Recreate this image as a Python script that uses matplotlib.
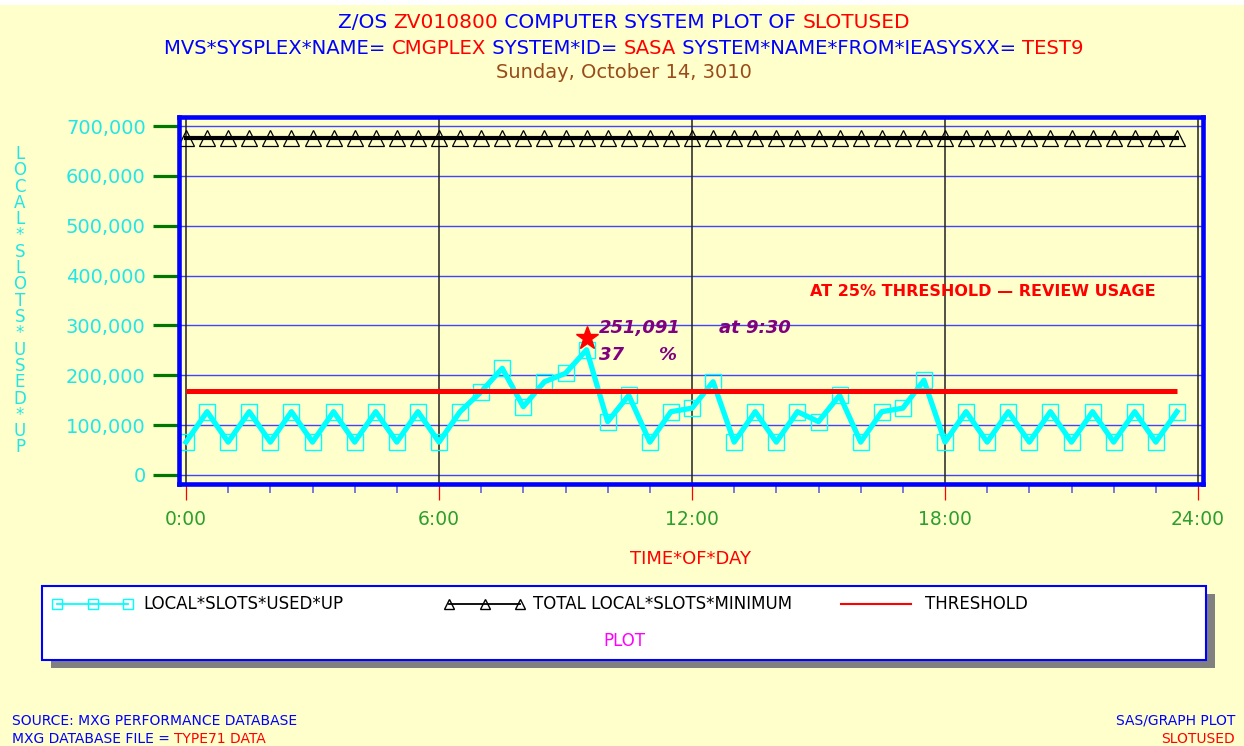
""" SAS/GRAPH style plot of local slots used over the day """

import matplotlib
matplotlib.use("Agg")
import matplotlib.pyplot as plt
from matplotlib.font_manager import FontProperties
from matplotlib.lines import Line2D
from matplotlib.patches import Rectangle
from matplotlib.transforms import offset_copy

### Data (one point every half hour)
times = ["0:00", "0:30", "1:00", "1:30", "2:00", "2:30", "3:00", "3:30",
         "4:00", "4:30", "5:00", "5:30", "6:00", "6:30", "7:00", "7:30",
         "8:00", "8:30", "9:00", "9:30", "10:00", "10:30", "11:00", "11:30",
         "12:00", "12:30", "13:00", "13:30", "14:00", "14:30", "15:00", "15:30",
         "16:00", "16:30", "17:00", "17:30", "18:00", "18:30", "19:00", "19:30",
         "20:00", "20:30", "21:00", "21:30", "22:00", "22:30", "23:00", "23:30"]

slots_used = [66000, 127000, 66000, 127000, 66000, 127000, 66000, 127000,
              66000, 127000, 66000, 127000, 66000, 127000, 167000, 214000,
              137000, 187000, 204000, 251091, 107000, 160000, 66000, 127000,
              134000, 187000, 66000, 127000, 66000, 127000, 107000, 160000,
              66000, 127000, 134000, 190000, 66000, 127000, 66000, 127000,
              66000, 127000, 66000, 127000, 66000, 127000, 66000, 127000]

total_slots = 675000
threshold = 168750

y_ticks = [0, 100000, 200000, 300000, 400000, 500000, 600000, 700000]
x_ticks = [0, 6, 12, 18, 24]
x_tick_labels = ["0:00", "6:00", "12:00", "18:00", "24:00"]

### Colours
BG = "#FFFFCC"
BLUE = "#0000FF"
RED = "#FF0000"
CYAN = "#00FFFF"
CYAN_TEXT = "#22E6E6"
GREEN = "#007700"
GREEN_TEXT = "#2E9E2E"
BROWN = "#994C1A"
PURPLE = "#800080"

W, H = 1244, 746


def to_hours(t):
    h, m = t.split(":")
    return int(h) + int(m) / 60.0


def fx(px):
    return px / W


def fy(px):
    return 1 - px / H


def draw_pieces(fig, pieces, x_px, y_px, ha="center", size=14, weight="normal"):
    """ Draw a line of text made of pieces with different colours """
    renderer = fig.canvas.get_renderer()
    prop = FontProperties(size=size, weight=weight)

    def width(s):
        w, _, _ = renderer.get_text_width_height_descent(s + "|", prop, ismath=False)
        w0, _, _ = renderer.get_text_width_height_descent("|", prop, ismath=False)
        return w - w0

    full = "".join(s for s, c in pieces)
    total = width(full)
    if ha == "center":
        start = x_px - total / 2
    elif ha == "right":
        start = x_px - total
    else:
        start = x_px

    prefix = ""
    for s, c in pieces:
        fig.text(fx(start + width(prefix)), fy(y_px), s, color=c, ha="left",
                 va="baseline", fontproperties=prop)
        prefix += s


hours = [to_hours(t) for t in times]

fig = plt.figure(figsize=(12.44, 7.46), dpi=100, facecolor=BG)
fig.patches.append(Rectangle((0, fy(5)), 1, 5 / H, transform=fig.transFigure,
                             facecolor="white", edgecolor="none"))

### Axes box ( pixel positions of the blue frame )
left, right, top, bottom = 179, 1203, 116.5, 484
ax = fig.add_axes([fx(left), fy(bottom), fx(right - left), (bottom - top) / H])
ax.set_facecolor(BG)

### Data scales: 0:00 at x=186 px, 24:00 at 1198 px ; 0 at y=475 px, 700,000 at 126 px
px_per_hour = (1198 - 186) / 24.0
px_per_unit = (475 - 126) / 700000.0
ax.set_xlim(-(186 - left) / px_per_hour, 24 + (right - 1198) / px_per_hour)
ax.set_ylim(-(bottom - 475) / px_per_unit, 700000 + (126 - top) / px_per_unit)

for spine in ax.spines.values():
    spine.set_color(BLUE)
    spine.set_linewidth(3.3)
    spine.set_zorder(6)

### Grid
for v in y_ticks:
    ax.axhline(v, color="#4444FF", lw=1.0, zorder=1)
for v in x_ticks:
    ax.axvline(v, color="#222222", lw=1.1, zorder=1)

### Series
ax.plot(hours, [total_slots] * len(hours), color="black", lw=3.0, marker="^",
        markersize=11, markerfacecolor="none", markeredgecolor="black",
        markeredgewidth=0.9, zorder=3)
ax.plot(hours, slots_used, color=CYAN, lw=3.8, marker="s", markersize=11,
        markerfacecolor="none", markeredgecolor=CYAN, markeredgewidth=1.0,
        zorder=3)
ax.plot([hours[0], hours[-1]], [threshold, threshold], color=RED, lw=3.6,
        solid_capstyle="butt", zorder=4)

### Peak annotation
peak_i = max(range(len(slots_used)), key=lambda i: slots_used[i])
peak_t, peak_v = hours[peak_i], slots_used[peak_i]
star_tr = offset_copy(ax.transData, fig=fig, x=0, y=12, units="dots")
ax.plot([peak_t], [peak_v], marker="*", color=RED, markersize=17,
        transform=star_tr, zorder=5, clip_on=False)
ann = dict(xy=(peak_t, peak_v), textcoords="offset pixels", color=PURPLE,
           fontsize=13, fontweight="bold", fontstyle="italic", va="center",
           ha="left", zorder=5)
ax.annotate(f"{peak_v:,}", xytext=(12, 22), **ann)
ax.annotate(f"at {times[peak_i]}", xytext=(132, 22), **ann)
ax.annotate(f"{round(100 * peak_v / total_slots)}", xytext=(12, -5), **ann)
ax.annotate("%", xytext=(72, -5), **ann)

ax.text((810 - left) / (right - left), (bottom - 291) / (bottom - top),
        "AT 25% THRESHOLD \u2014 REVIEW USAGE", transform=ax.transAxes,
        color=RED, fontsize=11.5, fontweight="bold", ha="left", va="center")

### Ticks
ax.set_yticks(y_ticks)
ax.set_yticklabels([f"{v:,}" for v in y_ticks])
ax.tick_params(axis="y", direction="out", length=19, width=2.3, color=GREEN,
               labelcolor=CYAN_TEXT, labelsize=14, pad=5)
ax.set_xticks(x_ticks)
ax.set_xticklabels(x_tick_labels)
ax.set_xticks([h for h in range(1, 24) if h % 6 != 0], minor=True)
ax.tick_params(axis="x", which="major", direction="out", length=11.5,
               width=0.9, color=RED, labelcolor=GREEN_TEXT, labelsize=13.5,
               pad=7)
ax.tick_params(axis="x", which="minor", direction="out", length=6.5,
               width=1.1, color="#5555DD")
ax.set_xlabel("TIME*OF*DAY", color=RED, fontsize=13, labelpad=15)

### Vertical y label ( stacked letters )
for i, ch in enumerate("LOCAL*SLOTS*USED*UP"):
    fig.text(fx(20), fy(154 + i * 16.3), ch, color=CYAN_TEXT, fontsize=12,
             ha="center", va="center")

### Titles
draw_pieces(fig, [("Z/OS ", BLUE), ("ZV010800", RED),
                  (" COMPUTER SYSTEM PLOT OF ", BLUE), ("SLOTUSED", RED)],
            624, 28, size=14.5)
draw_pieces(fig, [("MVS*SYSPLEX*NAME= ", BLUE), ("CMGPLEX", RED),
                  (" SYSTEM*ID= ", BLUE), ("SASA", RED),
                  (" SYSTEM*NAME*FROM*IEASYSXX= ", BLUE), ("TEST9", RED)],
            624, 54, size=14.1)
draw_pieces(fig, [("Sunday, October 14, 3010", BROWN)], 624, 78, size=14)

### Legend box with shadow
box_l, box_t, box_r, box_b = 42, 586, 1206, 660
fig.patches.append(Rectangle((fx(box_l + 9), fy(box_b + 8)), (box_r - box_l) / W,
                             (box_b - box_t) / H, transform=fig.transFigure,
                             facecolor="#808080", edgecolor="none", zorder=0))
fig.patches.append(Rectangle((fx(box_l), fy(box_b)), (box_r - box_l) / W,
                             (box_b - box_t) / H, transform=fig.transFigure,
                             facecolor="white", edgecolor=BLUE, lw=1.5, zorder=1))

leg_y = 604
fig.lines.append(Line2D([fx(57), fx(92.5), fx(128)], [fy(leg_y)] * 3,
                        transform=fig.transFigure, color=CYAN, lw=1.3, marker="s",
                        markersize=7, markerfacecolor="none", markeredgecolor=CYAN))
fig.lines.append(Line2D([fx(449), fx(484.5), fx(520)], [fy(leg_y)] * 3,
                        transform=fig.transFigure, color="black", lw=1.3, marker="^",
                        markersize=7, markerfacecolor="none", markeredgecolor="black"))
fig.lines.append(Line2D([fx(841), fx(911)], [fy(leg_y)] * 2,
                        transform=fig.transFigure, color=RED, lw=1.5))
for x_px, label in [(143, "LOCAL*SLOTS*USED*UP"),
                    (533, "TOTAL LOCAL*SLOTS*MINIMUM"),
                    (925, "THRESHOLD")]:
    fig.text(fx(x_px), fy(leg_y), label, color="black", fontsize=12,
             ha="left", va="center")
fig.text(fx(624), fy(641), "PLOT", color="#FF00FF", fontsize=12,
         ha="center", va="center")

### Footnotes
draw_pieces(fig, [("SOURCE: MXG PERFORMANCE DATABASE", BLUE)], 12, 725,
            ha="left", size=10)
draw_pieces(fig, [("MXG DATABASE FILE = ", BLUE), ("TYPE71 DATA", RED)], 12, 743,
            ha="left", size=10)
draw_pieces(fig, [("SAS/GRAPH PLOT", BLUE)], 1235, 725, ha="right", size=10)
draw_pieces(fig, [("SLOTUSED", RED)], 1235, 743, ha="right", size=10)

fig.savefig("out.png", dpi=100, facecolor=BG)
